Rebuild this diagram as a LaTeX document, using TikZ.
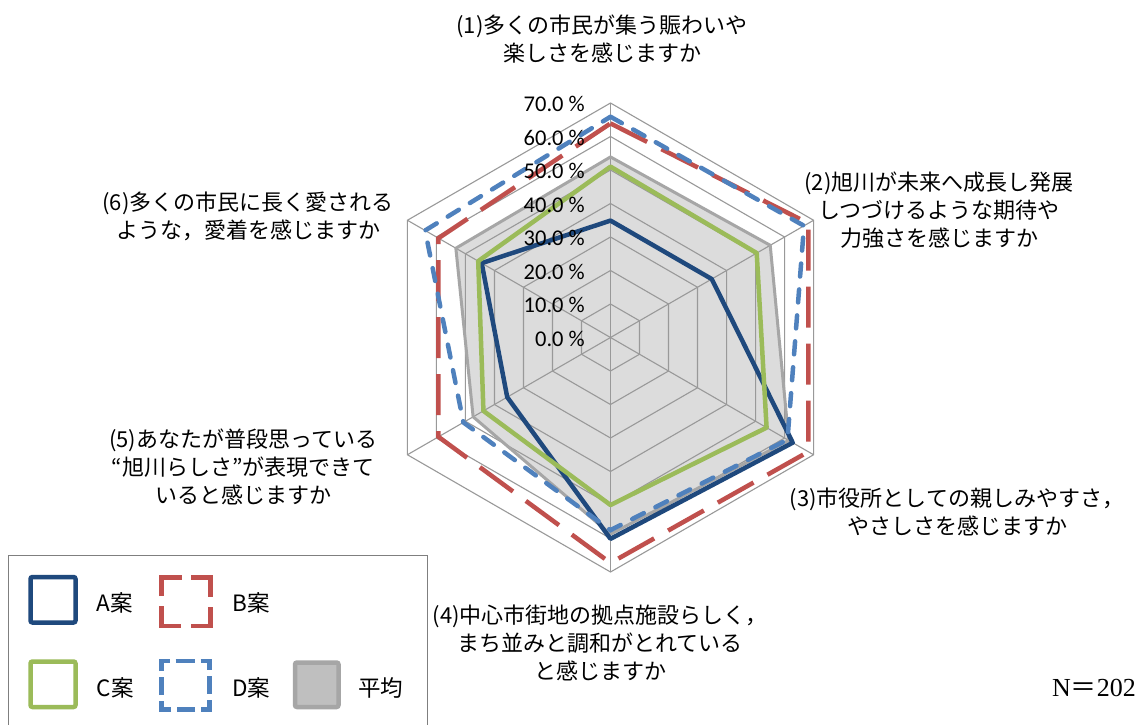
\documentclass[tikz,border=0pt]{standalone}
\usepackage{fontspec}
\newfontfamily\jp{Noto Sans CJK JP}
\newfontfamily\calf{Carlito}
\newfontfamily\lser{Liberation Serif}
\definecolor{ca}{HTML}{1F497D}
\definecolor{cb}{HTML}{C0504D}
\definecolor{cc}{HTML}{9BBB59}
\definecolor{cd}{HTML}{4F81BD}
\definecolor{cavgl}{HTML}{A6A6A6}
\definecolor{cavgf}{HTML}{DCDCDC}
\definecolor{cavgleg}{HTML}{BFBFBF}
\definecolor{cgrid}{HTML}{999999}
\definecolor{cframe}{HTML}{7F7F7F}
\newcommand\rsc{3.35}
\newcommand\series[7]{\draw[#1] (-90:{#2*\rsc}) -- (-30:{#3*\rsc}) -- (30:{#4*\rsc}) -- (90:{#5*\rsc}) -- (150:{#6*\rsc}) -- (210:{#7*\rsc}) -- cycle;}
\tikzset{
  grid/.style={draw=cgrid, line width=1.1pt},
  sA/.style={draw=ca, line width=4.5pt, line join=round},
  sB/.style={draw=cb, line width=4.5pt, dash pattern=on 41pt off 16pt},
  sC/.style={draw=cc, line width=4.5pt, line join=round},
  sD/.style={draw=cd, line width=4.5pt, dash pattern=on 13pt off 13pt, line cap=round},
  lbl/.style={font=\jp\fontsize{22}{28}\selectfont, align=center, inner sep=0pt},
  vlab/.style={font=\calf\fontsize{22.5}{27}\selectfont, anchor=east, inner sep=0pt},
  legtxt/.style={font=\jp\fontsize{22.5}{26}\selectfont, anchor=west, inner sep=0pt},
}
\begin{document}
\begin{tikzpicture}[x=1pt, y=-1pt]
\useasboundingbox (0,0) rectangle (1141,724);
\fill[white] (0,0) rectangle (1141,724);
% radar
\begin{scope}[shift={(610.5,337.5)}]
  % average fill
  \fill[cavgf] (-90:{53.9*\rsc}) -- (-30:{55.05*\rsc}) -- (30:{61.45*\rsc}) -- (90:{58.7*\rsc}) -- (150:{47.35*\rsc}) -- (210:{53.3*\rsc}) -- cycle;
  % grid
  \foreach \r in {1,...,7}
    \draw[grid] (-90:{\r*33.5}) -- (-30:{\r*33.5}) -- (30:{\r*33.5}) -- (90:{\r*33.5}) -- (150:{\r*33.5}) -- (210:{\r*33.5}) -- cycle;
  \foreach \a in {-90,-30,30,90,150,210}
    \draw[grid] (0,0) -- (\a:234.5);
  % series
  \series{draw=cavgl, line width=3pt, line join=round}{53.9}{55.05}{61.45}{58.7}{47.35}{53.3}
  \series{sA}{34.9}{34.9}{62.8}{60.1}{35.6}{44.4}
  \series{sB}{63.9}{68.2}{68.2}{67.3}{59.3}{59.3}
  \series{sC}{51.0}{50.4}{53.8}{50.0}{43.8}{45.6}
  \series{sD}{65.9}{66.7}{61.0}{57.5}{50.7}{63.9}
\end{scope}
% value labels
\foreach \v/\i in {0.0/0,10.0/1,20.0/2,30.0/3,40.0/4,50.0/5,60.0/6,70.0/7}
  \node[vlab] (v\i) at (585,{338.5-\i*33.5}) {\v\ \%};
% axis labels
\node[lbl] (l1) at (602,39) {(1)多くの市民が集う賑わいや\\楽しさを感じますか};
\node[lbl] (l2) at (939,210) {(2)旭川が未来へ成長し発展\\しつづけるような期待や\\力強さを感じますか};
\node[lbl] (l3) at (957,511.5) {(3)市役所としての親しみやすさ，\\やさしさを感じますか};
\node[lbl] (l4) at (600,643) {(4)中心市街地の拠点施設らしく，\\まち並みと調和がとれている\\と感じますか};
\node[lbl] (l5) at (243,467) {(5)あなたが普段思っている\\“旭川らしさ”が表現できて\\いると感じますか};
\node[lbl] (l6) at (248,216.5) {(6)多くの市民に長く愛される\\ような，愛着を感じますか};
% N
\node[anchor=east, inner sep=0pt, font=\fontsize{26}{30}\selectfont] (nn) at (1136,688) {\lser N\jp ＝\lser 202};
% legend
\draw[cframe, line width=1.3pt] (8.3,730) -- (8.3,555.7) -- (427.5,555.7) -- (427.5,730);
\draw[ca, line width=4.5pt, rounded corners=2pt] (30.5,577) rectangle (75.5,622.5);
\draw[cb, line width=4.5pt, dash pattern=on 39pt off 10pt, dash phase=44pt] (186,577.5) -- (210.5,577.5) -- (210.5,626) -- (161.5,626) -- (161.5,577.5) -- cycle;
\draw[cc, line width=4.5pt, rounded corners=2pt] (30.5,661.5) rectangle (75.5,707);
\draw[cd, line width=4.5pt, dash pattern=on 18pt off 6pt, dash phase=9pt] (185.5,661) -- (209.5,661) -- (209.5,709.5) -- (161.5,709.5) -- (161.5,661) -- cycle;
\draw[cavgl, fill=cavgleg, line width=4.5pt, rounded corners=2pt] (295,662.5) rectangle (338.5,707);
\node[legtxt] (ta) at (96.7,603) {A案};
\node[legtxt] (tb) at (232.3,603) {B案};
\node[legtxt] (tc) at (96.7,688) {C案};
\node[legtxt] (td) at (232.3,688) {D案};
\node[legtxt] (tavg) at (358,688) {平均};
\end{tikzpicture}
\end{document}
